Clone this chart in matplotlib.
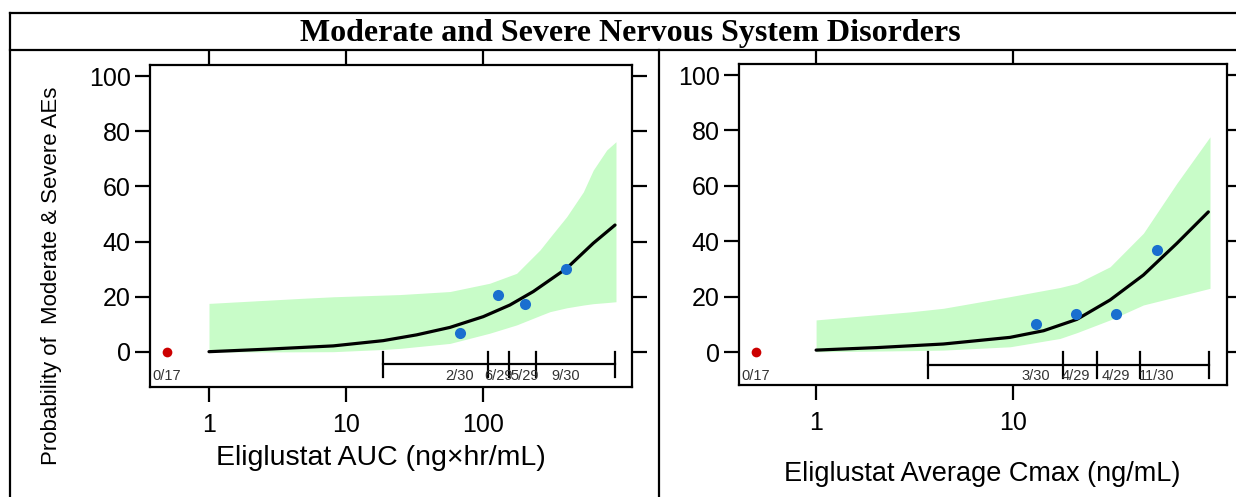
import matplotlib

matplotlib.use("Agg")
import matplotlib.pyplot as plt
from matplotlib.lines import Line2D
from matplotlib.ticker import NullLocator

# %% data
title = "Moderate and Severe Nervous System Disorders"
ylabel = "Probability of  Moderate & Severe AEs"
yticks = [0, 20, 40, 60, 80, 100]

# left panel: AUC
auc_curve_x = [1.0, 2.64, 8.08, 18.7, 32.8, 57.4, 100.5, 157.0, 233.0, 408.0, 638.0, 920.0]
auc_curve_p = [0.1, 1.0, 2.2, 4.1, 6.2, 8.9, 12.8, 17.0, 21.9, 30.3, 39.4, 46.0]
auc_band_x = [1.0, 4.62, 8.08, 18.7, 24.8, 57.4, 112.0, 176.0, 261.0, 308.0,
              408.0, 540.0, 638.0, 800.0, 935.0]
auc_band_lo = [0.0, 0.05, 0.1, 0.9, 1.3, 3.1, 6.8, 9.8, 13.2, 14.6,
               16.0, 17.0, 17.5, 17.9, 18.2]
auc_band_hi = [17.6, 19.4, 20.0, 20.6, 20.8, 21.9, 24.9, 28.5, 37.0, 41.5,
               49.0, 58.0, 65.9, 73.2, 76.2]
auc_obs_x = [68.0, 129.0, 203.0, 403.0]
auc_obs_p = [6.7, 20.7, 17.2, 30.0]
auc_obs_lab = ["2/30", "6/29", "5/29", "9/30"]
auc_bins = [18.6, 109.0, 155.0, 244.0, 919.0]
auc_placebo_x = 0.49

# right panel: Cmax
cmax_curve_x = [1.0, 2.03, 4.43, 9.66, 14.3, 21.1, 31.1, 45.9, 67.8, 98.1]
cmax_curve_p = [0.7, 1.6, 2.9, 5.3, 7.7, 11.8, 18.8, 27.8, 39.2, 50.6]
cmax_band_x = [1.0, 3.0, 4.43, 9.66, 17.3, 21.1, 31.1, 45.9, 67.8, 100.0]
cmax_band_lo = [0.1, 0.5, 0.7, 1.9, 4.9, 7.0, 11.6, 17.0, 20.0, 23.0]
cmax_band_hi = [11.6, 14.5, 15.8, 20.0, 23.3, 24.8, 30.8, 42.9, 60.9, 77.7]
cmax_obs_x = [13.1, 20.9, 33.3, 53.8]
cmax_obs_p = [10.0, 13.8, 13.8, 36.7]
cmax_obs_lab = ["3/30", "4/29", "4/29", "11/30"]
cmax_bins = [3.70, 17.9, 26.7, 44.1, 98.9]
cmax_placebo_x = 0.496

placebo_lab = "0/17"

W, H = 1236, 497
fig = plt.figure(figsize=(W / 100, H / 100), dpi=100)


def fx(px):
    return px / W


def fy(py):
    return 1 - py / H


SANS = ["Liberation Sans", "DejaVu Sans"]


def panel(rect, xlim, ylim, xticks, cx, cp, bx, blo, bhi, ox, op, olab, bins, px0):
    ax = fig.add_axes(rect)
    ax.set_xscale("log")
    ax.set_xlim(*xlim)
    ax.set_ylim(*ylim)
    ax.fill_between(bx, blo, bhi, color="#c8fcc8", lw=0)
    ax.plot(cx, cp, color="black", lw=2.3, solid_capstyle="round")
    ax.plot(ox, op, "o", color="#1a6fcf", ms=8, mec="none")
    ax.plot([px0], [0], "o", color="#cc0000", ms=7, mec="none")
    # exposure bins
    ax.plot([bins[0], bins[-1]], [-4.5, -4.5], color="black", lw=1.6)
    for b in bins:
        ax.plot([b, b], [0, -9.2], color="black", lw=1.6)
    for x, s in zip(ox, olab):
        ax.text(x, -8.6, s, ha="center", va="center", fontsize=10.5,
                color="#333333", family=SANS)
    ax.text(px0, -8.6, placebo_lab, ha="center", va="center", fontsize=10.5,
            color="#333333", family=SANS)

    ax.set_xticks(xticks)
    ax.set_xticklabels([f"{t:g}" for t in xticks])
    ax.xaxis.set_minor_locator(NullLocator())
    ax.set_yticks(yticks)
    ax.tick_params(axis="both", direction="out", length=10.5, width=1.6,
                   labelsize=18, top=True, right=True, color="black")
    ax.tick_params(axis="x", pad=8)
    for lab in ax.get_xticklabels() + ax.get_yticklabels():
        lab.set_family(SANS)
    for sp in ax.spines.values():
        sp.set_linewidth(1.6)
    return ax


panel([fx(150), fy(387), fx(632) - fx(150), fy(65) - fy(387)],
      (0.371, 1224), (-12.7, 104), [1, 10, 100],
      auc_curve_x, auc_curve_p, auc_band_x, auc_band_lo, auc_band_hi,
      auc_obs_x, auc_obs_p, auc_obs_lab, auc_bins, auc_placebo_x)

panel([fx(739), fy(385), fx(1227) - fx(739), fy(64) - fy(385)],
      (0.406, 122), (-11.9, 104), [1, 10],
      cmax_curve_x, cmax_curve_p, cmax_band_x, cmax_band_lo, cmax_band_hi,
      cmax_obs_x, cmax_obs_p, cmax_obs_lab, cmax_bins, cmax_placebo_x)

# labels
fig.text(fx(381), fy(465), "Eliglustat AUC (ng\u00d7hr/mL)", ha="center",
         va="baseline", fontsize=20.5, family=SANS)
fig.text(fx(982), fy(481), "Eliglustat Average Cmax (ng/mL)", ha="center",
         va="baseline", fontsize=19.5, family=SANS)
fig.text(fx(52), fy(276), ylabel, rotation=90, ha="center", va="center",
         fontsize=16, family=SANS)
fig.text(fx(630), fy(33), title, ha="center", va="center", fontsize=23,
         fontweight="bold", family=["Liberation Serif", "DejaVu Serif"])

# outer frame
frame = [((10, 13), (W, 13)), ((10, 50), (W, 50)), ((10, 13), (10, H)),
         ((659, 50), (659, H))]
for (x0, y0), (x1, y1) in frame:
    fig.add_artist(Line2D([fx(x0), fx(x1)], [fy(y0), fy(y1)],
                          transform=fig.transFigure, color="black", lw=1.6))

fig.savefig("out.png", dpi=100)
